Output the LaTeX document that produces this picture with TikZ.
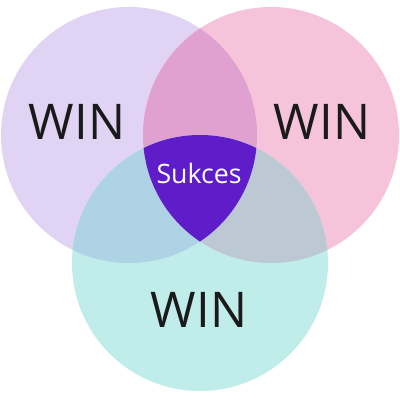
\documentclass[tikz,border=0pt]{standalone}
\usepackage{fontspec}
\setmainfont{Open Sans}
\usepackage{tikz}
\definecolor{lavender}{HTML}{E1D3F3}
\definecolor{rosy}{HTML}{F6C4DA}
\definecolor{aqua}{HTML}{C0ECEA}
\definecolor{lavrosy}{HTML}{E0A1D1}
\definecolor{lavaqua}{HTML}{ADD3E4}
\definecolor{rosyaqua}{HTML}{BCC8D4}
\definecolor{deepviolet}{HTML}{5E1DC8}
\definecolor{inkblack}{HTML}{1A1A1A}
\tikzstyle{win}=[text=inkblack, inner sep=0pt,
    font=\fontsize{35}{40}\selectfont]
\tikzstyle{core}=[text=white, inner sep=0pt,
    font=\fontsize{19}{22}\selectfont]

\begin{document}
\begin{tikzpicture}
\useasboundingbox (0,0) rectangle (10,10);
\coordinate (L) at (3.225,6.625);
\coordinate (R) at (6.775,6.625);
\coordinate (B) at (5,3.425);
% circles
\fill [lavender] (L) circle (3.2);
\fill [rosy] (R) circle (3.2);
\fill [aqua] (B) circle (3.2);
% overlaps
\begin{scope}
\clip (L) circle (3.2);
\fill [lavrosy] (R) circle (3.2);
\fill [lavaqua] (B) circle (3.2);
\end{scope}
\begin{scope}
\clip (R) circle (3.2);
\fill [rosyaqua] (B) circle (3.2);
\end{scope}
% centre
\begin{scope}
\clip (L) circle (3.2);
\clip (R) circle (3.2);
\fill [deepviolet] (B) circle (3.2);
\end{scope}
% labels
\path (1.925,6.95) node [win] (winL) {WIN};
\path (8.05,6.95) node [win] (winR) {WIN};
\path (4.975,2.25) node [win] (winB) {WIN};
\path (4.975,5.675) node [core] (sukces) {Sukces};
\end{tikzpicture}
\end{document}
